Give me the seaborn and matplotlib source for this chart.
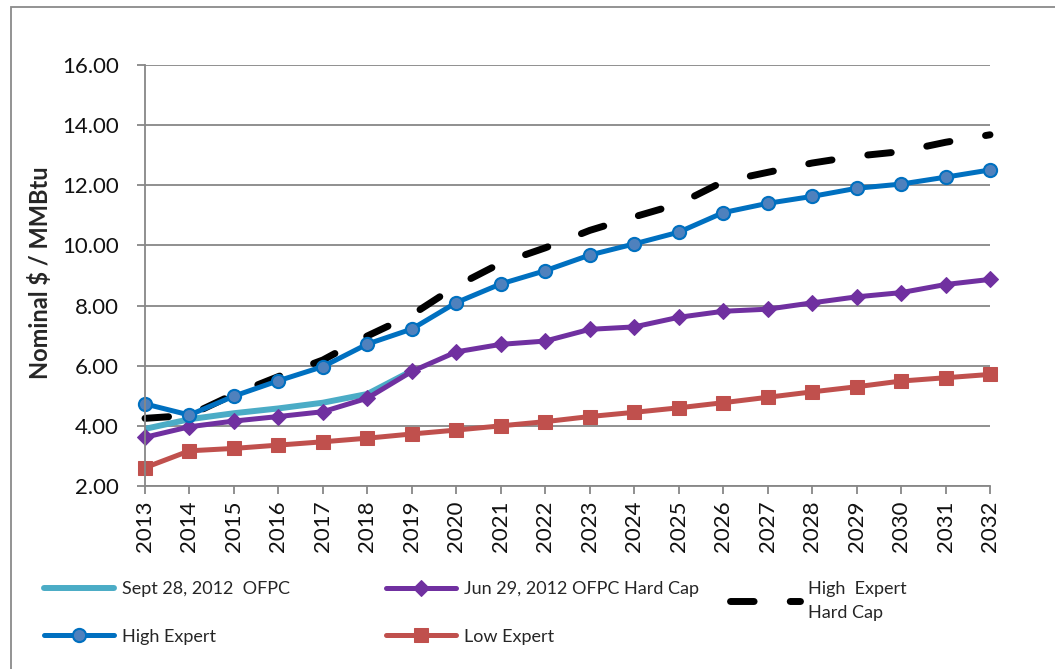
import matplotlib
matplotlib.use("Agg")
import matplotlib.pyplot as plt
from matplotlib.patches import Rectangle
import seaborn as sns
import numpy as np

years = list(range(2013, 2033))
sept_years = list(range(2013, 2020))
sept_ofpc = [3.90, 4.22, 4.42, 4.58, 4.77, 5.06, 5.83]
jun_hardcap = [3.62, 3.97, 4.16, 4.31, 4.47, 4.92, 5.81, 6.46, 6.71, 6.82,
               7.21, 7.29, 7.61, 7.81, 7.88, 8.09, 8.29, 8.43, 8.70, 8.87]
high_hardcap = [4.25, 4.35, 5.05, 5.64, 6.19, 6.99, 7.69, 8.65, 9.41, 9.92,
                10.50, 10.95, 11.38, 12.12, 12.43, 12.74, 12.97, 13.12, 13.43, 13.68]
high_expert = [4.73, 4.36, 4.99, 5.50, 5.97, 6.72, 7.22, 8.10, 8.72, 9.16,
               9.68, 10.05, 10.44, 11.09, 11.40, 11.63, 11.90, 12.04, 12.27, 12.51]
low_expert = [2.61, 3.17, 3.25, 3.36, 3.47, 3.59, 3.73, 3.86, 4.00, 4.14,
              4.31, 4.45, 4.60, 4.77, 4.95, 5.13, 5.30, 5.49, 5.60, 5.71]
labels = ["Sept 28, 2012  OFPC", "Jun 29, 2012 OFPC Hard Cap",
          "High  Expert\nHard Cap", "High Expert", "Low Expert"]
yticks = [2, 4, 6, 8, 10, 12, 14, 16]

sns.set_style("white")
plt.rcParams['font.family'] = ['Lato', 'DejaVu Sans']

W, H = 1055, 669
fig = plt.figure(figsize=(W / 100, H / 100), dpi=100)
ax = fig.add_axes([145 / W, 1 - 486 / H, (990 - 145) / W, (486 - 65) / H])

sns.lineplot(x=sept_years, y=sept_ofpc, ax=ax, color="#4BACC6", lw=4.3,
             label=labels[0], legend=False, solid_capstyle="round")
sns.lineplot(x=years, y=jun_hardcap, ax=ax, color="#7030A0", lw=3.6,
             marker="D", markersize=8.5, markeredgecolor="#7030A0",
             markerfacecolor="#7030A0", label=labels[1], legend=False, clip_on=False)
sns.lineplot(x=years, y=high_hardcap, ax=ax, color="black", lw=5,
             linestyle=(0, (3.4, 5.2)), dash_capstyle="round",
             label=labels[2], legend=False, clip_on=False)
sns.lineplot(x=years, y=high_expert, ax=ax, color="#0070C0", lw=3.6,
             marker="o", markersize=9.5, markerfacecolor="#4F81BD",
             markeredgecolor="#0070C0", markeredgewidth=1.5,
             label=labels[3], legend=False, clip_on=False)
sns.lineplot(x=years, y=low_expert, ax=ax, color="#C0504D", lw=3.6,
             marker="s", markersize=9.5, markerfacecolor="#C0504D",
             markeredgecolor="#C0504D", label=labels[4], legend=False, clip_on=False)

ax.set_xlim(2013, 2032)
ax.set_ylim(2, 16)
ax.set_yticks(yticks)
ax.set_yticklabels([f"{v:.2f}" for v in yticks])
ax.set_xticks(years)
ax.set_xticklabels([str(y) for y in years], rotation=90)
ax.grid(axis="y", color="#878787", lw=1.3)
ax.set_axisbelow(True)
for s in ["top", "right"]:
    ax.spines[s].set_visible(False)
for s in ["left", "bottom"]:
    ax.spines[s].set_color("#878787")
    ax.spines[s].set_linewidth(1.3)
ax.tick_params(axis="y", direction="out", length=5.8, width=1.3, color="#878787",
               pad=13, labelsize=16, left=True, labelcolor="#111111")
ax.tick_params(axis="x", direction="out", length=5.8, width=1.3, color="#878787",
               pad=4.5, labelsize=16, bottom=True, labelcolor="#111111")
ax.set_xlabel("")
ax.set_ylabel("")

fig.text(40 / W, 1 - 273 / H, "Nominal $ / MMBtu", rotation=90, fontsize=17,
         fontweight="bold", ha="center", va="center")

lines = ax.get_lines()
h = {l.get_label(): l for l in lines}
common = dict(loc="upper left", frameon=False, borderpad=0, borderaxespad=0,
              handlelength=3.9, handletextpad=0.4, labelspacing=1.75, fontsize=13)
ytop = 1 - 581 / H
fig.legend(handles=[h[labels[0]], h[labels[3]]], labels=[labels[0], labels[3]],
           bbox_to_anchor=(44 / W, ytop), **common)
fig.legend(handles=[h[labels[1]], h[labels[4]]], labels=[labels[1], labels[4]],
           bbox_to_anchor=(386 / W, ytop), **common)
leg3 = fig.legend(handles=[h[labels[2]]], labels=[labels[2]],
                  bbox_to_anchor=(730 / W, 1 - 581 / H), **common)
for t in leg3.get_texts():
    t.set_linespacing(1.6)

fig.patches.append(Rectangle((11 / W, -0.2), 1.2, 1.2 - 7 / H, transform=fig.transFigure,
                             fill=False, edgecolor="#8a8a8a", lw=1.3, clip_on=False))

fig.savefig("out.png", dpi=100)
